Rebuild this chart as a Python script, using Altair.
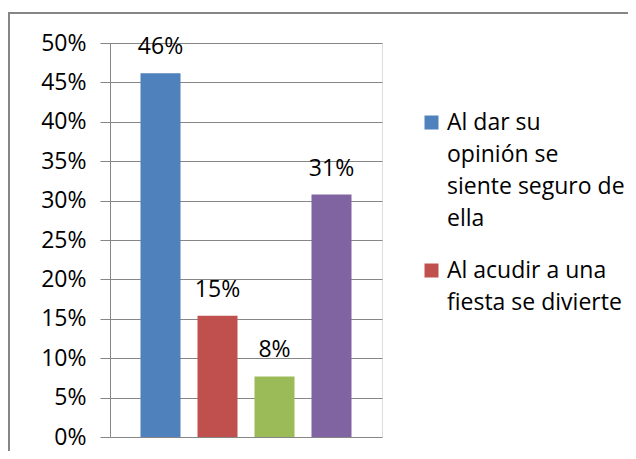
import altair as alt
import pandas as pd

series = [
    "Al dar su\nopinión se\nsiente seguro de\nella",
    "Al acudir a una\nfiesta se divierte",
    "Serie 3",
    "Serie 4",
]
values = [0.4615, 0.1538, 0.0769, 0.3077]
colors = ["#4F81BD", "#C0504D", "#9BBB59", "#8064A2"]
y_ticks = [0, 0.05, 0.10, 0.15, 0.20, 0.25, 0.30, 0.35, 0.40, 0.45, 0.50]

df = pd.DataFrame({"serie": series, "valor": values})

FONT = "Open Sans"
FS = 23

x_enc = alt.X(
    "serie:N",
    sort=series,
    axis=None,
    scale=alt.Scale(paddingInner=0.298, paddingOuter=0.535),
)

y_axis = alt.Axis(
    values=y_ticks,
    format=".0%",
    title=None,
    grid=True,
    gridColor="#868686",
    domainColor="#868686",
    tickColor="#868686",
    tickSize=10,
    labelPadding=14,
    labelOverlap=False,
    labelFont=FONT,
    labelFontSize=FS,
    labelColor="#000000",
)

y_enc = alt.Y(
    "valor:Q",
    scale=alt.Scale(domain=[0, 0.5], nice=False, zero=True),
    axis=y_axis,
)

bars = alt.Chart(df).mark_bar().encode(
    x=x_enc,
    y=y_enc,
    color=alt.Color(
        "serie:N",
        sort=series,
        scale=alt.Scale(domain=series, range=colors),
        legend=alt.Legend(
            title=None,
            values=series[:2],
            orient="none",
            legendX=310,
            legendY=75,
            labelExpr="split(datum.label, '\\n')",
            labelFont=FONT,
            labelFontSize=FS,
            labelColor="#000000",
            labelBaseline="alphabetic",
            labelLimit=400,
            labelOffset=4,
            symbolType="M-1,-2H1V0H-1Z",
            symbolSize=196,
            symbolStrokeWidth=0,
            symbolOpacity=1,
            rowPadding=28,
        ),
    ),
)

labels = alt.Chart(df).mark_text(
    baseline="alphabetic", dy=-19, font=FONT, fontSize=FS, color="#000000"
).encode(
    x=x_enc,
    y=y_enc,
    text=alt.Text("valor:Q", format=".0%"),
)

frame = alt.Chart(pd.DataFrame({"f": [0]})).mark_rect(
    fill=None, stroke="#868686", strokeWidth=2, clip=False
).encode(
    x=alt.value(-101), x2=alt.value(700), y=alt.value(-30), y2=alt.value(600)
)

chart = (
    alt.layer(frame, bars, labels)
    .properties(
        width=272,
        height=394,
        padding={"left": 102, "top": 35, "right": 246, "bottom": 14},
        autosize=alt.AutoSizeParams(type="none"),
    )
    .configure_view(stroke=None)
    .configure(style={"guide-label": {"lineHeight": 32}})
)

chart.save("out.html", embed_options={"renderer": "svg", "actions": False})
